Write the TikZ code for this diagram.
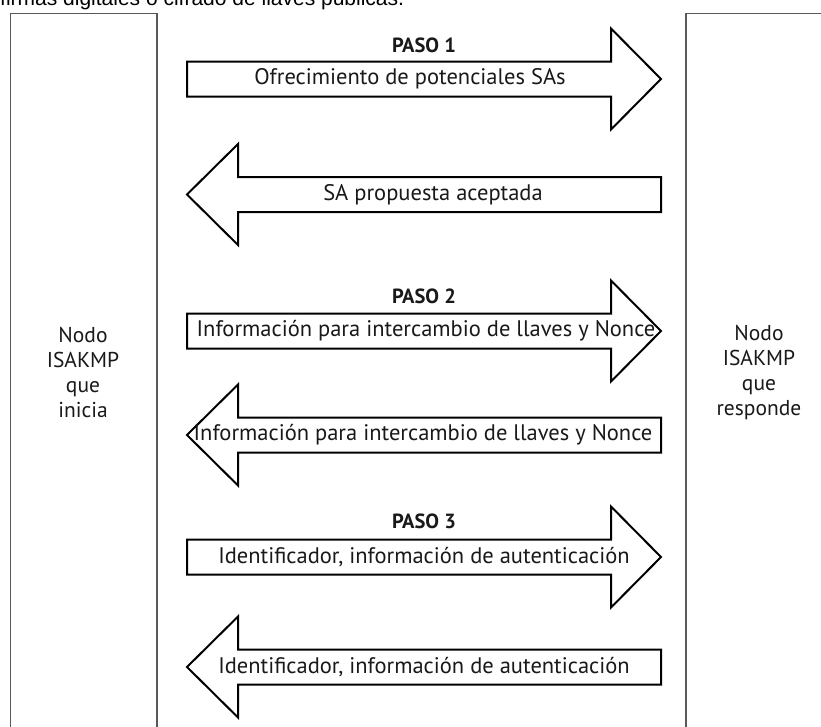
\documentclass[tikz,border=0pt]{standalone}
\usepackage{fontspec}
\setmainfont{PT Sans}
\newfontfamily\topfont{Liberation Sans}
\newcommand\rarrowshape[1]{\draw[arr] (187,#1-17.5) -- (611,#1-17.5) -- (611,#1-50.5) -- (661,#1) -- (611,#1+50.5) -- (611,#1+17.5) -- (187,#1+17.5) -- cycle;}
\newcommand\larrowshape[1]{\draw[arr] (661,#1-17.5) -- (238,#1-17.5) -- (238,#1-50.5) -- (187,#1) -- (238,#1+50.5) -- (238,#1+17.5) -- (661,#1+17.5) -- cycle;}
\begin{document}
\begin{tikzpicture}[x=1pt,y=-1pt,
  box/.style={draw=black!65,line width=1.5pt},
  arr/.style={draw=black,line width=2pt,line join=miter,fill=white},
  lbl/.style={font=\fontsize{22.5}{25}\selectfont,inner sep=0pt,text=black!90},
  nodetxt/.style={font=\fontsize{21.5}{25}\selectfont,inner sep=0pt,text=black!90},
  paso/.style={font=\bfseries\fontsize{20.5}{25}\selectfont,inner sep=0pt,text=black!90}]
\useasboundingbox (0,0) rectangle (821,726);
\clip (0,0) rectangle (821,726);
\fill[white] (0,0) rectangle (821,726);
\node[anchor=base west,inner sep=0pt,font=\topfont\fontsize{21}{25}\selectfont] (top) at (0,5) {firmas digitales o cifrado de llaves públicas.};
\draw[box] (10.5,13.5) rectangle (157,760);
\draw[box] (686,13.5) rectangle (832,760);
\node[nodetxt,align=center] (ini) at (83,372.5) {Nodo\\ISAKMP\\que\\inicia};
\node[nodetxt,align=center] (resp) at (759,372.5) {Nodo\\ISAKMP\\que\\responde};
\rarrowshape{79}
\larrowshape{194.5}
\rarrowshape{331}
\larrowshape{435}
\rarrowshape{557}
\larrowshape{667}
\node[paso] (p1) at (424,45) {PASO 1};
\node[paso] (p2) at (424,296) {PASO 2};
\node[paso] (p3) at (424,521) {PASO 3};
\node[lbl] (m1) at (410,79) {Ofrecimiento de potenciales SAs};
\node[lbl] (m2) at (433,194.5) {SA propuesta aceptada};
\node[lbl] (m3) at (426,331) {Información para intercambio de llaves y Nonce};
\node[lbl] (m4) at (423,435) {Información para intercambio de llaves y Nonce};
\node[lbl] (m5) at (424,557) {Identificador, información de autenticación};
\node[lbl] (m6) at (424,667) {Identificador, información de autenticación};
\end{tikzpicture}
\end{document}
